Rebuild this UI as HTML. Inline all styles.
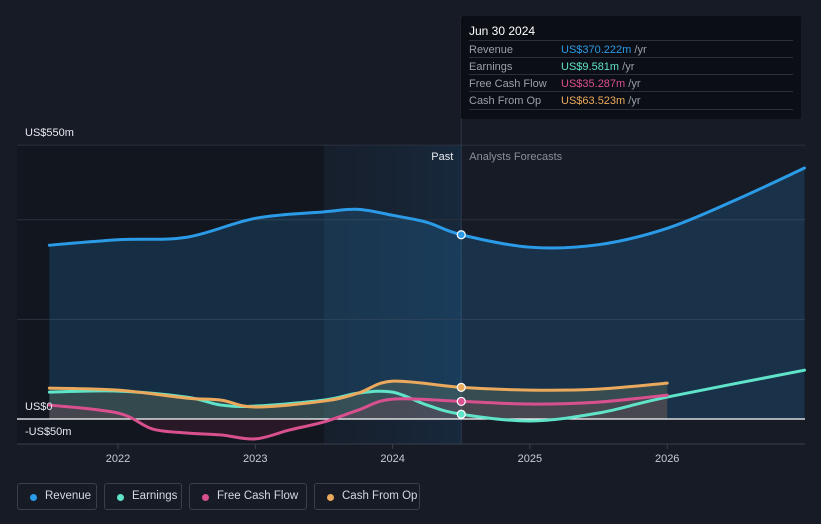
<!DOCTYPE html>
<html><head><meta charset="utf-8"><style>
body{margin:0;background:#161b26;font-family:"Liberation Sans",sans-serif;}
#wrap{position:relative;width:821px;height:524px;overflow:hidden;background:#161b26;}
.tt{position:absolute;left:461px;top:16px;width:340px;height:103px;background:#0b0e14;border-radius:2px;color:#fff;font-size:11px;}
.tt .h{position:absolute;left:8px;top:8px;font-size:12px;}
.row{position:absolute;left:8px;width:324px;height:17px;border-top:1px solid #2a2f3a;}
.row span.l{position:absolute;left:0;top:3px;color:#9aa0aa;}
.row span.v{position:absolute;left:92px;top:3px;}
.row span.u{color:#9aa0aa;}
.leg{position:absolute;top:483px;height:27px;border:1px solid #3a3f4a;border-radius:3px;color:#d5d8de;font-size:11.5px;box-sizing:border-box;white-space:nowrap;}
.leg i{position:absolute;left:12px;top:10px;width:7px;height:7px;border-radius:50%;}
.leg span{position:absolute;left:27px;top:6px;}
</style></head><body>
<div id="wrap">
<svg id="svg" width="821" height="524" style="position:absolute;left:0;top:0"></svg>
<div class="tt">
<div class="h">Jun 30 2024</div>
<div class="row" style="top:24px"><span class="l">Revenue</span><span class="v" style="color:#2b9be8">US$370.222m <span class="u">/yr</span></span></div>
<div class="row" style="top:41px"><span class="l">Earnings</span><span class="v" style="color:#5fe3c9">US$9.581m <span class="u">/yr</span></span></div>
<div class="row" style="top:58px"><span class="l">Free Cash Flow</span><span class="v" style="color:#d9508f">US$35.287m <span class="u">/yr</span></span></div>
<div class="row" style="top:75px;border-bottom:1px solid #2a2f3a"><span class="l">Cash From Op</span><span class="v" style="color:#eaa95c">US$63.523m <span class="u">/yr</span></span></div>
</div>
<div class="leg" style="left:17px;width:80px"><i style="background:#2b9be8"></i><span>Revenue</span></div>
<div class="leg" style="left:104px;width:78px"><i style="background:#5fe3c9"></i><span>Earnings</span></div>
<div class="leg" style="left:189px;width:118px"><i style="background:#d9508f"></i><span>Free Cash Flow</span></div>
<div class="leg" style="left:314px;width:106px"><i style="background:#eaa95c"></i><span>Cash From Op</span></div>
</div>
<script>
const revX=[2021.5,2022,2022.5,2023,2023.5,2023.75,2024,2024.25,2024.5,2025,2025.5,2026,2026.5,2027];
const revY=[349,360,365,403,416,421,409,395,370,345,350,383,440,504];
const earnX=[2021.5,2022,2022.5,2022.75,2023,2023.5,2023.75,2024,2024.25,2024.5,2025,2025.5,2026,2027];
const earnY=[54,56,44,28,26,38,52,54,28,9.6,-4,12,44,98];
const fcfX=[2021.5,2022,2022.25,2022.5,2022.75,2023,2023.25,2023.5,2023.75,2024,2024.5,2025,2025.5,2026];
const fcfY=[28,12,-20,-28,-32,-40,-22,-6,18,40,35.3,30,34,48];
const cfoX=[2021.5,2022,2022.5,2022.75,2023,2023.5,2023.75,2024,2024.5,2025,2025.5,2026];
const cfoY=[62,58,42,38,24,36,52,76,63.5,58,60,72];
const yTicks=[550,0,-50];
const yTickLabels=["US$550m","US$0","-US$50m"];
const xTicks=[2022,2023,2024,2025,2026];
const grid=[550,400,200];
const X=t=>118+(t-2022)*137.3;
const Y=v=>419-v*0.498;
const NS="http://www.w3.org/2000/svg";
const svg=document.getElementById('svg');
function el(tag,attrs,name){const e=document.createElementNS(NS,tag);for(const k in attrs)e.setAttribute(k,attrs[k]);


svg.appendChild(e);return e;}
function path(xs,ys){const p=xs.map((x,i)=>[X(x),Y(ys[i])]);let d=`M${p[0][0]},${p[0][1]}`;
for(let i=0;i<p.length-1;i++){const p0=p[i-1]||p[i],p1=p[i],p2=p[i+1],p3=p[i+2]||p2;
d+=` C${p1[0]+(p2[0]-p0[0])/6},${p1[1]+(p2[1]-p0[1])/6} ${p2[0]-(p3[0]-p1[0])/6},${p2[1]-(p3[1]-p1[1])/6} ${p2[0]},${p2[1]}`;}return d;}
const defs=document.createElementNS(NS,'defs');defs.innerHTML='<linearGradient id="hl" x1="0" x2="1"><stop offset="0" stop-color="#1a3450" stop-opacity="0.15"/><stop offset="1" stop-color="#1a4a70" stop-opacity="0.3"/></linearGradient>';svg.appendChild(defs);
el('rect',{x:17,y:145,width:X(2023.5)-17,height:299,fill:'#12161f'},'past-background');
el('rect',{x:X(2023.5),y:145,width:X(2024.5)-X(2023.5),height:299,fill:'url(#hl)'},'highlight-region');
grid.forEach(g=>el('line',{x1:17,x2:805,y1:Y(g),y2:Y(g),stroke:'#2c313c'},'gridline'));
el('line',{x1:X(2024.5),x2:X(2024.5),y1:16,y2:444,stroke:'#2c3a4a'},'divider');
const zero=Y(0);
el('path',{d:path(revX,revY)+` L${X(2027)},${zero} L${X(2021.5)},${zero} Z`,fill:'#2b9be8','fill-opacity':0.18},'revenue-area');
el('path',{d:path(cfoX,cfoY)+` L${X(2026)},${zero} L${X(2021.5)},${zero} Z`,fill:'#8a9a6a','fill-opacity':0.25},'cfo-area');
el('path',{d:path(fcfX,fcfY)+` L${X(2026)},${zero} L${X(2021.5)},${zero} Z`,fill:'#b03050','fill-opacity':0.15},'fcf-area');
el('line',{x1:17,x2:805,y1:zero,y2:zero,stroke:'#ffffff','stroke-width':1.2},'zero-line');
el('line',{x1:17,x2:805,y1:444,y2:444,stroke:'#3a3f4a'},'x-axis');
[['revenue',revX,revY,'#2b9be8'],['earnings',earnX,earnY,'#5fe3c9'],['fcf',fcfX,fcfY,'#d9508f'],['cfo',cfoX,cfoY,'#eaa95c']].forEach(s=>{
el('path',{d:path(s[1],s[2]),fill:'none',stroke:s[3],'stroke-width':3,'stroke-linecap':'round'},s[0]+'-line');
const i=s[1].indexOf(2024.5);if(i>=0)el('circle',{cx:X(2024.5),cy:Y(s[2][i]),r:4,fill:s[3],stroke:'#fff','stroke-width':1.2},s[0]+'-marker');});
yTicks.forEach((v,i)=>{const t=el('text',{x:25,y:Y(v)-9,fill:'#e8eaee','font-size':11},'y-tick-label');t.textContent=yTickLabels[i];});
xTicks.forEach(v=>{el('line',{x1:X(v),x2:X(v),y1:444,y2:449,stroke:'#3a3f4a'},'x-tick');
const t=el('text',{x:X(v),y:462,fill:'#c8ccd3','font-size':11,'text-anchor':'middle'},'x-tick-label');t.textContent=v;});
let t=el('text',{x:X(2024.5)-8,y:160,fill:'#e8eaee','font-size':11,'text-anchor':'end'},'past-label');t.textContent='Past';
t=el('text',{x:X(2024.5)+8,y:160,fill:'#8a909a','font-size':11},'forecast-label');t.textContent='Analysts Forecasts';
</script>
</body></html>
